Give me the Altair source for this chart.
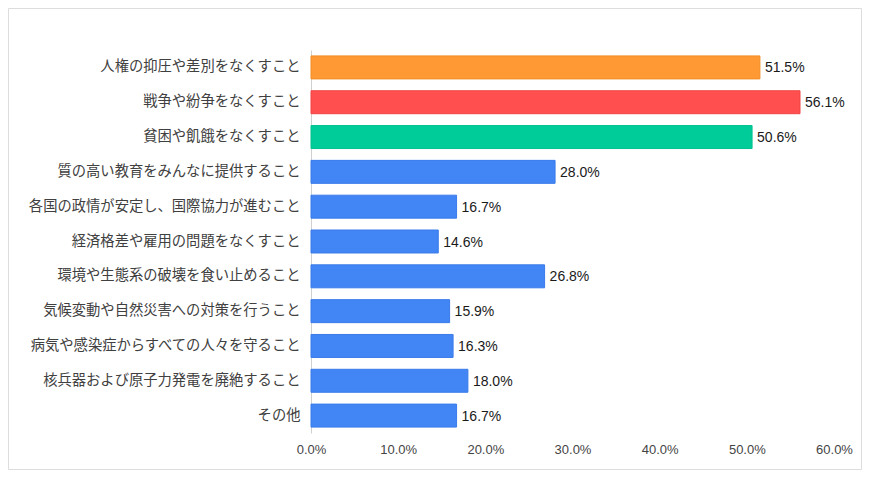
import altair as alt
import pandas as pd

categories = [
    "人権の抑圧や差別をなくすこと",
    "戦争や紛争をなくすこと",
    "貧困や飢餓をなくすこと",
    "質の高い教育をみんなに提供すること",
    "各国の政情が安定し、国際協力が進むこと",
    "経済格差や雇用の問題をなくすこと",
    "環境や生態系の破壊を食い止めること",
    "気候変動や自然災害への対策を行うこと",
    "病気や感染症からすべての人々を守ること",
    "核兵器および原子力発電を廃絶すること",
    "その他",
]
values = [51.5, 56.1, 50.6, 28.0, 16.7, 14.6, 26.8, 15.9, 16.3, 18.0, 16.7]
fills = ["#FF9933", "#FF4F4F", "#00CC99"] + ["#4285F4"] * 8
strokes = ["#F28C26", "#F04444", "#00BF8F"] + ["#3A7BEA"] * 8
x_ticks = [0, 10, 20, 30, 40, 50, 60]

df = pd.DataFrame({"cat": categories, "val": values, "fill": fills, "stroke": strokes})

W, H = 523, 383
PAD = {"left": 303, "top": 42, "right": 28, "bottom": 37}

y_enc = alt.Y(
    "cat:N",
    sort=categories,
    scale=alt.Scale(paddingInner=0.34, paddingOuter=0.17),
    axis=alt.Axis(
        title=None,
        ticks=False,
        domainColor="#d0d0d0",
        labelFont="Noto Sans CJK JP",
        labelFontSize=14.3,
        labelColor="#404040",
        labelPadding=11,
        labelLimit=400,
    ),
)
x_enc = alt.X(
    "val:Q",
    scale=alt.Scale(domain=[0, 60], nice=False),
    axis=alt.Axis(
        title=None,
        values=x_ticks,
        labelExpr="format(datum.value, '.1f') + '%'",
        labelFlush=False,
        domain=False,
        ticks=False,
        grid=False,
        labelFont="Liberation Sans",
        labelFontSize=13,
        labelColor="#444444",
        labelPadding=10,
    ),
)

bars = alt.Chart(df).mark_bar(strokeWidth=1).encode(
    x=x_enc,
    y=y_enc,
    fill=alt.Fill("fill:N", scale=None),
    stroke=alt.Stroke("stroke:N", scale=None),
)

labels = alt.Chart(df).transform_calculate(
    lbl="format(datum.val, '.1f') + '%'"
).mark_text(
    align="left", baseline="middle", dx=5, dy=1,
    font="Liberation Sans", fontSize=14, color="#1a1a1a"
).encode(
    x=alt.X("val:Q"),
    y=alt.Y("cat:N", sort=categories),
    text="lbl:N",
)

frame = alt.Chart(pd.DataFrame({"a": [0]})).mark_rect(
    fill=None, stroke="#dddddd", strokeWidth=1
).encode(
    x=alt.value(-PAD["left"] + 0.5),
    x2=alt.value(W + PAD["right"] - 0.5),
    y=alt.value(-PAD["top"] + 0.5),
    y2=alt.value(H + PAD["bottom"] - 0.5),
)

chart = alt.layer(frame, bars, labels).properties(
    width=W,
    height=H,
    autosize=alt.AutoSizeParams(type="none"),
    padding=PAD,
    background="white",
).configure_view(stroke=None)

chart.save("out.html", embed_options={"renderer": "svg", "actions": False})
